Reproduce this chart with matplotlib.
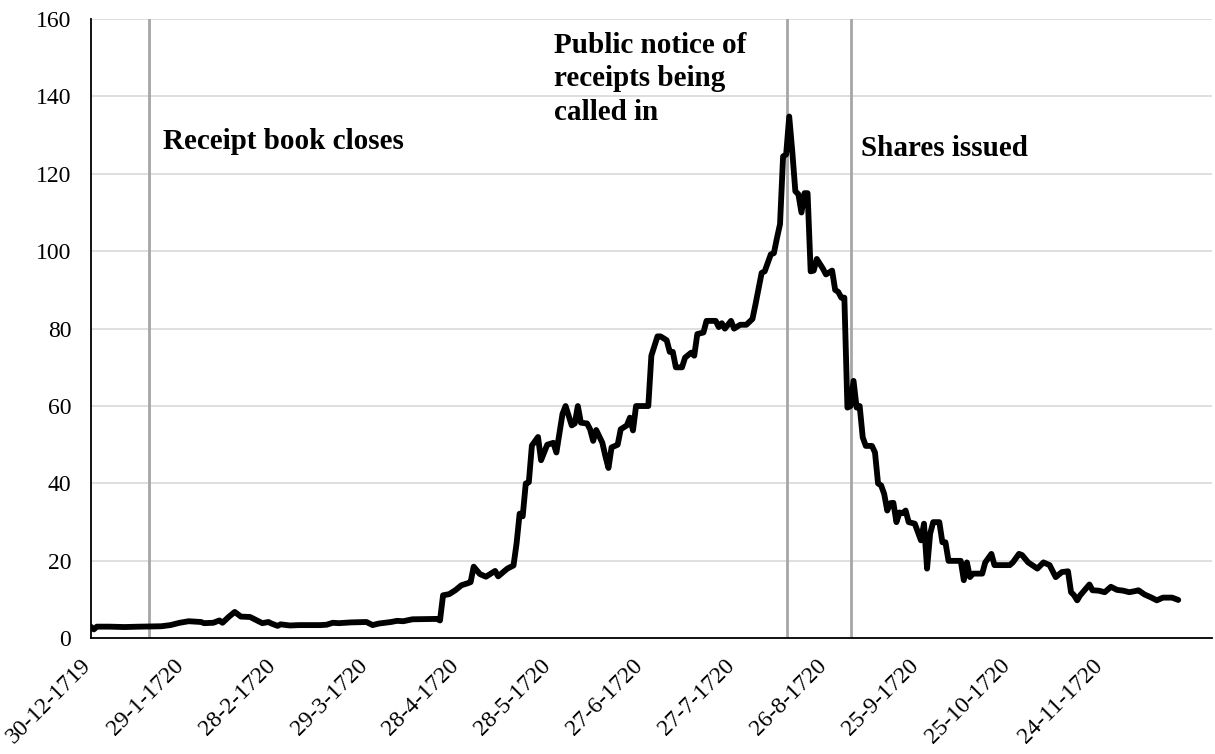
import pandas as pd
import numpy as np
import matplotlib
matplotlib.use('Agg')
import matplotlib.pyplot as plt
import matplotlib.transforms as mtransforms

plt.rcParams['font.family'] = ['Liberation Serif', 'DejaVu Serif']

# days counted from 30-12-1719, prices
start = pd.Timestamp('1719-12-30')
days = [0, 1, 2, 6, 11, 16, 23, 26, 29, 32, 36, 37, 40, 42, 43, 45, 47, 49, 52, 56,
        58, 59, 61, 62, 65, 68, 75, 77, 79, 81, 85, 90, 92, 94, 98, 100, 102, 105, 113, 114,
        115, 117, 119, 121, 123, 124, 125, 127, 129, 132, 133, 136, 138, 139, 140, 141, 142, 143, 144, 146,
        147, 149, 151, 152, 154, 155, 157, 158, 159, 160, 162, 163, 164, 165, 167, 168, 169, 170, 172, 173,
        175, 176, 177, 178, 182, 183, 185, 186, 188, 189, 190, 191, 193, 194, 196, 197, 198, 200, 201, 204,
        205, 206, 207, 209, 210, 212, 214, 216, 217, 219, 220, 222, 223, 224, 225, 226, 227, 228, 229, 230,
        231, 232, 233, 234, 235, 236, 237, 239, 240, 242, 243, 244, 245, 246, 247, 248, 249, 250, 251, 252,
        253, 255, 256, 257, 258, 259, 260, 261, 262, 263, 264, 265, 266, 267, 269, 271, 272, 273, 274, 275,
        277, 278, 279, 280, 284, 285, 286, 287, 288, 291, 292, 294, 295, 300, 301, 303, 304, 306, 309, 311,
        313, 315, 317, 319, 320, 321, 322, 323, 326, 327, 329, 331, 333, 335, 337, 339, 341, 342, 344, 346,
        348, 350, 353, 355]
price = [3.0, 2.3, 3.0, 3.0, 2.9, 3.0, 3.1, 3.4, 4.0, 4.4, 4.2, 3.9, 4.0, 4.6, 4.0, 5.5, 6.8, 5.6, 5.5, 3.9,
         4.2, 3.8, 3.2, 3.6, 3.3, 3.4, 3.4, 3.5, 4.0, 3.9, 4.1, 4.2, 3.4, 3.8, 4.2, 4.5, 4.4, 4.9, 5.0, 4.6,
         11.1, 11.4, 12.4, 13.7, 14.2, 14.5, 18.5, 16.6, 15.9, 17.4, 16.0, 18.0, 18.8, 24.5, 32.2, 31.5, 40.0, 40.3, 49.8, 52.0,
         46.0, 50.0, 50.5, 48.0, 58.0, 60.0, 55.0, 55.5, 60.0, 55.7, 55.5, 54.0, 51.0, 53.8, 50.5, 47.0, 44.0, 49.3, 50.0, 54.0,
         55.0, 57.0, 53.7, 60.0, 60.0, 73.0, 78.0, 78.0, 77.0, 74.0, 74.0, 70.0, 70.0, 72.5, 73.8, 73.0, 78.6, 79.0, 82.0, 82.0,
         80.4, 81.4, 80.0, 82.0, 80.0, 81.0, 81.0, 82.5, 86.3, 94.4, 94.8, 99.2, 99.5, 103.4, 107.0, 124.5, 125.0, 134.8, 125.8, 115.5,
         114.7, 110.0, 115.0, 115.0, 94.8, 95.0, 98.0, 95.5, 94.0, 95.0, 90.0, 89.5, 88.0, 88.0, 59.6, 60.0, 66.5, 59.6, 60.0, 51.9,
         49.7, 49.7, 48.0, 40.0, 39.5, 37.3, 33.0, 34.9, 35.0, 30.0, 32.5, 32.3, 33.0, 30.0, 29.6, 25.3, 29.6, 18.0, 27.0, 30.0,
         30.0, 24.8, 24.8, 20.0, 20.0, 15.0, 19.6, 15.8, 16.7, 16.7, 19.6, 21.8, 18.9, 18.9, 19.6, 21.8, 21.5, 19.6, 18.0, 19.6,
         18.9, 15.8, 17.1, 17.3, 11.9, 11.1, 9.8, 11.1, 13.9, 12.4, 12.3, 11.9, 13.3, 12.5, 12.3, 11.9, 12.2, 12.4, 11.3, 10.6,
         9.8, 10.5, 10.5, 9.9]

event_days = [19.1, 227.3, 248.1]
event_labels = ['Receipt book closes', 'Public notice of\nreceipts being\ncalled in', 'Shares issued']
label_days = [23.6, 151.1, 251.5]
label_y = [126.5, 134.0, 124.7]

tick_labels = ['30-12-1719', '29-1-1720', '28-2-1720', '29-3-1720', '28-4-1720', '28-5-1720',
               '27-6-1720', '27-7-1720', '26-8-1720', '25-9-1720', '25-10-1720', '24-11-1720']

dates = start + pd.to_timedelta(days, unit='D')
tick_dates = pd.date_range(start, periods=len(tick_labels), freq='30D')

fig = plt.figure(figsize=(12.15, 7.54), dpi=100)
ax = fig.add_axes([0.0747, 0.1535, 0.9228, 0.8213])

ax.set_ylim(0, 160)
ax.set_yticks(np.arange(0, 161, 20))
ax.set_xlim(start, start + pd.Timedelta(days=366))
ax.grid(axis='y', color='#d9d9d9', linewidth=1.2)
ax.set_axisbelow(True)

for d in event_days:
    ax.axvline(start + pd.Timedelta(days=d), color='#a6a6a6', linewidth=2.0, zorder=2)

ax.plot(dates, price, color='black', linewidth=4.2, solid_joinstyle='round', solid_capstyle='round', zorder=3)

for txt, d, y in zip(event_labels, label_days, label_y):
    ax.text(start + pd.Timedelta(days=d), y, txt, fontsize=21, fontweight='bold',
            ha='left', va='baseline', linespacing=1.3)

ax.set_xticks(tick_dates)
ax.set_xticklabels(tick_labels, rotation=45, ha='right')
ax.tick_params(axis='both', length=0, labelsize=17)
ax.tick_params(axis='y', pad=14)
ax.tick_params(axis='x', pad=12)

shift = mtransforms.ScaledTranslation(5 / 100, 0, fig.dpi_scale_trans)
for lbl in ax.get_xticklabels():
    lbl.set_transform(lbl.get_transform() + shift)

for s in ['top', 'right']:
    ax.spines[s].set_visible(False)
for s in ['left', 'bottom']:
    ax.spines[s].set_linewidth(1.3)

plt.savefig('out.png', dpi=100)
